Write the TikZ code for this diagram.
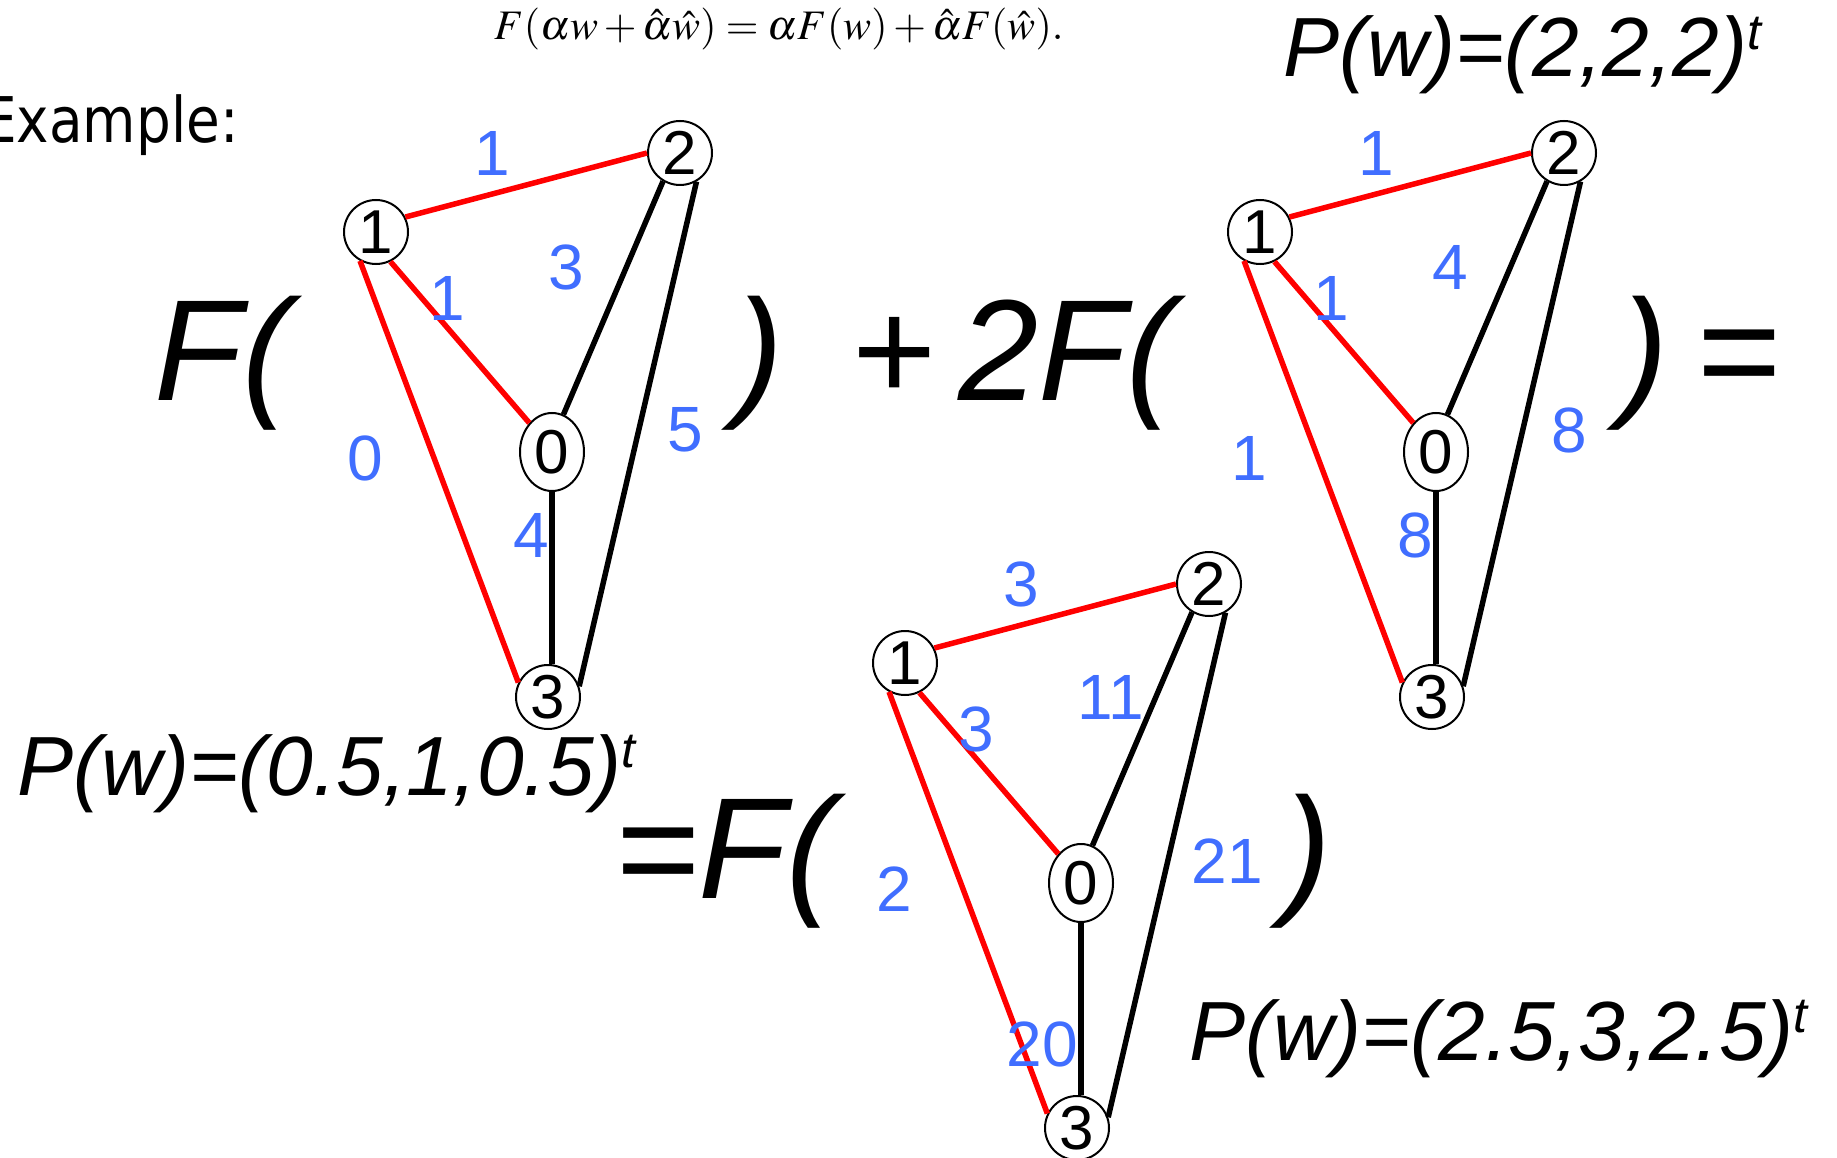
\documentclass[tikz,border=0pt]{standalone}
\usepackage{mathptmx}
\usepackage{fontspec}
\setmainfont{Liberation Sans}
\newfontfamily\exfont[FakeStretch=0.87]{DejaVu Sans}
\usetikzlibrary{shapes.geometric}
\definecolor{lblue}{RGB}{64,110,255}
\tikzset{
  vtx/.style={circle,draw,line width=2pt,minimum size=64pt,inner sep=0pt,font=\fontsize{62}{62}\selectfont},
  vtxz/.style={ellipse,draw,line width=2pt,minimum width=64pt,minimum height=78pt,inner sep=0pt,font=\fontsize{62}{62}\selectfont},
  redge/.style={draw=red,line width=5.5pt},
  bedge/.style={draw=black,line width=5.5pt},
  wt/.style={text=lblue,font=\fontsize{64}{64}\selectfont,inner sep=0pt},
  big/.style={font=\fontsize{144}{144}\selectfont\itshape,inner sep=0pt,anchor=base west},
  pw/.style={font=\fontsize{84}{84}\selectfont\itshape,inner sep=0pt,anchor=base west},
}
\newcommand\supt{\raisebox{0.33em}{\fontsize{50}{50}\selectfont t}}
\newcommand\mygraph[3]{%
  \begin{scope}[shift={(#2,#3)}]
    \node[vtx]  (#1a) at (376,232) {1};
    \node[vtx]  (#1b) at (680,153) {2};
    \node[vtxz] (#1o) at (552,452) {0};
    \node[vtx]  (#1c) at (548,697) {3};
    \draw[redge] (#1a.27) -- (#1b.180);
    \draw[redge] (#1a.-64) -- (#1o.128);
    \draw[redge] (#1a.-119) -- (#1c.154);
    \draw[bedge] (#1b.-121) -- (#1o.73);
    \draw[bedge] (#1b.-60) -- (#1c.19);
    \draw[bedge] (#1o.south) -- (#1o.south |- #1c.north);
  \end{scope}}
\begin{document}
\begin{tikzpicture}[x=1pt,y=-1pt]
\path[use as bounding box] (0,0) rectangle (1837,1158);

% top formula
\node[inner sep=0pt] (eq) at (779,29) {\fontsize{42}{42}\selectfont $F(\alpha w+\hat{\alpha}\hat{w})=\alpha F(w)+\hat{\alpha}F(\hat{w}).$};
\node[anchor=base west,inner sep=0pt] (ex) at (-18,143) {\exfont\fontsize{63}{63}\selectfont Example:};

% graphs
\mygraph{g}{0}{0}
\mygraph{h}{884}{0}
\mygraph{k}{529}{431}

% weights graph 1
\node[wt] (w1a) at (492,153) {1};
\node[wt] (w1b) at (566,267) {3};
\node[wt] (w1c) at (447,298) {1};
\node[wt] (w1d) at (365,458) {0};
\node[wt] (w1e) at (685,430) {5};
\node[wt] (w1f) at (531,535) {4};
% weights graph 2
\node[wt] (w2a) at (1376,153) {1};
\node[wt] (w2b) at (1450,267) {4};
\node[wt] (w2c) at (1331,298) {1};
\node[wt] (w2d) at (1249,458) {1};
\node[wt] (w2e) at (1569,430) {8};
\node[wt] (w2f) at (1415,535) {8};
% weights graph 3
\node[wt] (w3a) at (1021,584) {3};
\node[wt] (w3b) at (1111,697) {11};
\node[wt] (w3c) at (976,729) {3};
\node[wt] (w3d) at (894,889) {2};
\node[wt] (w3e) at (1227,861) {21};
\node[wt] (w3f) at (1042,1044) {20};

% big text
\node[big] (t1) at (154,400) {F(};
\node[big] (t2) at (735,400) {)};
\node[big] (t3) at (850,400) {+\hspace{24pt}2F(};
\node[big] (t4) at (1620,400) {)};
\node[big] (t5) at (1695,400) {=};
\node[big] (t6) at (614,898) {=F(};
\node[big] (t7) at (1283,898) {)};

% P(w) labels
\node[pw] (p1) at (1283,77) {P(w)=(2,2,2)\supt};
\node[pw] (p2) at (17,795) {P(w)=(0.5,1,0.5)\supt};
\node[pw] (p3) at (1189,1060) {P(w)=(2.5,3,2.5)\supt};
\end{tikzpicture}
\end{document}
